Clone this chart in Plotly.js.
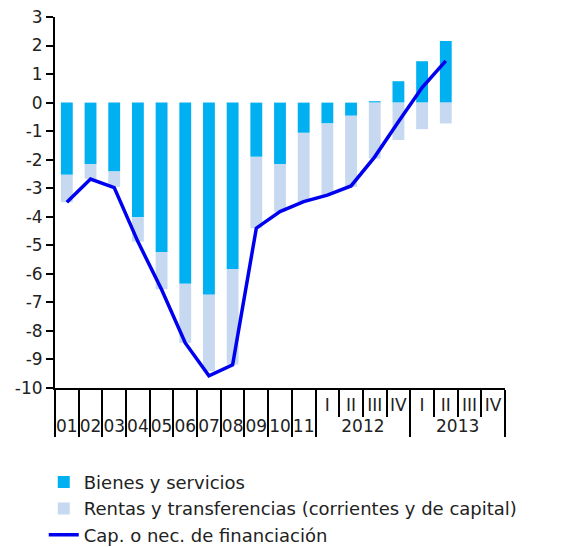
<!DOCTYPE html>
<html>
<head>
<meta charset="utf-8">
<script src="https://cdn.plot.ly/plotly-3.0.1.min.js"></script>
<style>html,body{margin:0;padding:0;background:#fff;}#chart{width:562px;height:547px;}</style>
</head>
<body>
<div id="chart"></div>
<script>
var groups = ['01','02','03','04','05','06','07','08','09','10','11','2012','2012','2012','2012','2013','2013','2013','2013'];
var periods = [' ',' ',' ',' ',' ',' ',' ',' ',' ',' ',' ','I','II','III','IV','I','II','III','IV'];
var bienes = [-2.53,-2.15,-2.41,-4.02,-5.24,-6.35,-6.73,-5.83,-1.90,-2.15,-1.06,-0.73,-0.46,0.05,0.75,1.45,2.16,null,null];
var rentas = [-0.96,-0.52,-0.54,-0.85,-1.30,-2.07,-2.68,-3.35,-2.50,-1.67,-2.41,-2.51,-2.49,-1.96,-1.31,-0.93,-0.73,null,null];
var capnec = [-3.49,-2.68,-2.98,-4.87,-6.55,-8.42,-9.57,-9.19,-4.40,-3.82,-3.47,-3.24,-2.92,-1.90,-0.67,0.53,1.46,null,null];
var yTickVals = [3,2,1,0,-1,-2,-3,-4,-5,-6,-7,-8,-9,-10];
var yTickText = ['3','2','1','0','-1','-2','-3','-4','-5','-6','-7','-8','-9','-10'];

var fontFam = '"DejaVu Sans", sans-serif';
var x = [groups, periods];
var traces = [
  {type:'bar', name:'Bienes y servicios', x:x, y:bienes, marker:{color:'#00B0F0'}},
  {type:'bar', name:'Rentas y transferencias (corrientes y de capital)', x:x, y:rentas, marker:{color:'#C6D9F1'}},
  {type:'scatter', mode:'lines', name:'Cap. o nec. de financiación', x:x, y:capnec, line:{color:'#0000F0', width:3.5}}
];
var layout = {
  width:562, height:547,
  margin:{l:55, r:57, t:17, b:159, autoexpand:false},
  barmode:'relative', bargap:0.5,
  paper_bgcolor:'#fff', plot_bgcolor:'#fff',
  font:{family:fontFam, color:'#222'},
  showlegend:true,
  legend:{x:-0.025, xanchor:'left', yref:'container', y:0.152, yanchor:'top', font:{size:18, color:'#222'}, traceorder:'normal', bgcolor:'rgba(0,0,0,0)'},
  yaxis:{range:[-10,3], tickmode:'array', tickvals:yTickVals, ticktext:yTickText, ticks:'outside', ticklen:7, tickwidth:2, tickcolor:'#000', showline:true, linecolor:'#000', linewidth:2, showgrid:false, zeroline:false, tickfont:{size:17, color:'#222'}, automargin:false, fixedrange:true},
  xaxis:{type:'multicategory', tickson:'boundaries', ticks:'outside', ticklen:27, tickwidth:2, tickcolor:'#000', showline:true, linecolor:'#000', linewidth:2, showgrid:false, showdividers:true, dividercolor:'#000', dividerwidth:2, tickangle:0, ticklabelstandoff:1, tickfont:{size:17, color:'#222'}, automargin:false, fixedrange:true}
};
Plotly.newPlot('chart', traces, layout, {displayModeBar:false, staticPlot:true});
</script>
</body>
</html>
